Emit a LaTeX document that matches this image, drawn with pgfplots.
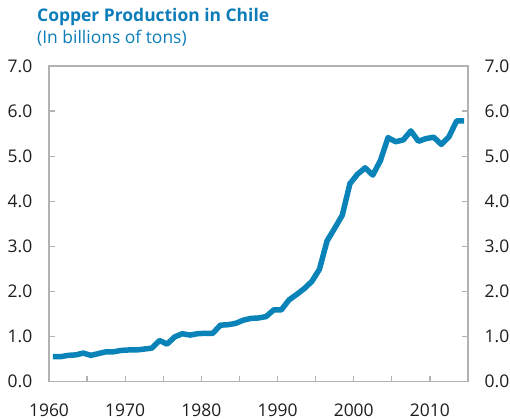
\documentclass[border=0pt]{standalone}
\usepackage{fontspec}
\setmainfont{Open Sans}
\usepackage{pgfplots}
\pgfplotsset{compat=1.18}
\usepackage{pgfplotstable}
\definecolor{imfblue}{RGB}{10,132,184}
\definecolor{titleblue}{RGB}{12,125,185}
\definecolor{framegray}{RGB}{178,178,178}
\definecolor{labelgray}{RGB}{30,30,30}

% Chile copper production, annual
\pgfplotstableread{
year value
1960 0.55
1961 0.55
1962 0.58
1963 0.59
1964 0.63
1965 0.58
1966 0.62
1967 0.66
1968 0.66
1969 0.69
1970 0.70
1971 0.70
1972 0.72
1973 0.74
1974 0.91
1975 0.83
1976 0.99
1977 1.06
1978 1.03
1979 1.06
1980 1.07
1981 1.07
1982 1.25
1983 1.26
1984 1.29
1985 1.36
1986 1.40
1987 1.41
1988 1.44
1989 1.59
1990 1.59
1991 1.81
1992 1.93
1993 2.06
1994 2.22
1995 2.49
1996 3.12
1997 3.40
1998 3.69
1999 4.39
2000 4.60
2001 4.74
2002 4.58
2003 4.90
2004 5.41
2005 5.32
2006 5.36
2007 5.56
2008 5.33
2009 5.39
2010 5.42
2011 5.26
2012 5.43
2013 5.78
2014 5.78
}\copper

\pgfplotsset{
  chartbase/.style={
    scale only axis,
    width=419bp, height=315.5bp,
    xmin=1960, xmax=2015,
    ymin=0, ymax=7,
    axis line style={framegray, line width=1.6bp},
    every tick/.style={framegray, line width=1.2bp},
    tick align=inside,
    major tick length=6bp,
    minor tick length=6bp,
    ytick={0,1,...,7},
    yticklabels={0.0,1.0,2.0,3.0,4.0,5.0,6.0,7.0},
    tick label style={font=\fontsize{17.5}{20}\selectfont, text=labelgray, inner sep=0pt},
  },
}

\begin{document}
\begin{tikzpicture}
\begin{axis}[
  chartbase,
  xtick={1960,1970,...,2010},
  xticklabels={1960,1970,1980,1990,2000,2010},
  minor xtick={1965,1975,...,2015},
  xtick pos=bottom,
  ytick pos=left,
  xticklabel style={anchor=base, yshift=-34.5bp},
  yticklabel style={anchor=base east, xshift=-16.5bp, yshift=-6.3bp},
]
\addplot[imfblue, line width=5.5bp, line join=round, no marks]
  table[x expr=\thisrow{year}+0.5, y=value] {\copper};
\end{axis}
\begin{axis}[
  chartbase,
  hide x axis,
  ytick pos=right,
  yticklabel pos=right,
  yticklabel style={anchor=base west, xshift=16.5bp, yshift=-6.3bp},
]
\end{axis}
\node[anchor=base west, inner sep=0pt, text=titleblue, font=\fontsize{17.5}{20}\selectfont\bfseries]
  at (-12bp,359.8bp) {Copper Production in Chile};
\node[anchor=base west, inner sep=0pt, text=titleblue, font=\fontsize{17.5}{20}\selectfont]
  at (-12bp,337.5bp) {(In billions of tons)};
\pgfresetboundingbox
\path[use as bounding box] (-49bp,-38.5bp) rectangle (461bp,381.5bp);
\end{tikzpicture}
\end{document}
